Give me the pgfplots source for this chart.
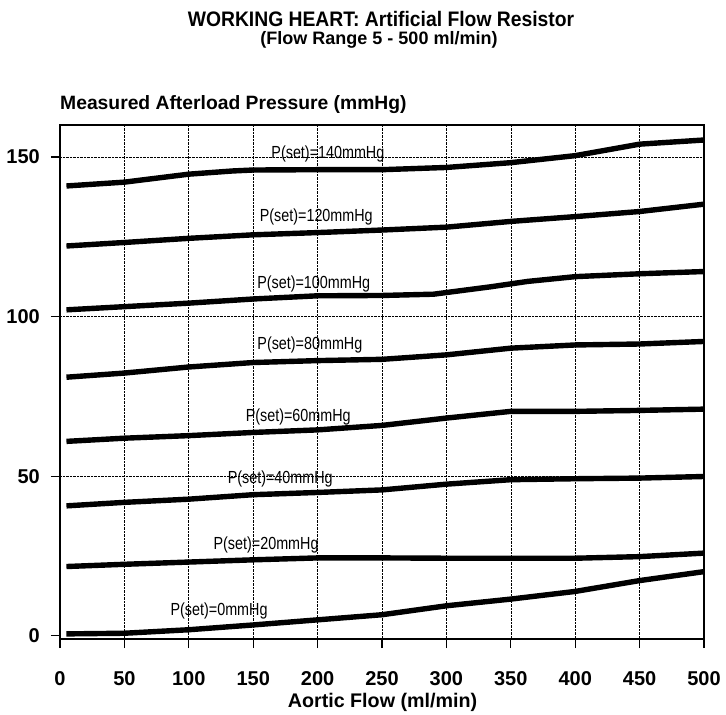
\documentclass[border=0pt]{standalone}
\usepackage{fontspec}
\setmainfont{Liberation Sans}
\newfontfamily\narrowfont[FakeStretch=0.82]{Liberation Sans}
\newfontfamily\titlefont[FakeStretch=0.92]{Liberation Sans}
\usepackage{pgfplots}
\pgfplotsset{compat=1.18}
\pgfplotsset{curve/.style={black, solid, line width=5.4pt, line cap=butt, line join=round, mark=none}}
\begin{document}
\begin{tikzpicture}
\useasboundingbox (-60pt,-76pt) rectangle (666pt,639pt);
\begin{axis}[
  name=ax, at={(0pt,0pt)}, anchor=south west,
  scale only axis, width=644pt, height=514pt,
  xmin=0, xmax=500, ymin=-1, ymax=160,
  xtick={0,50,...,500}, ytick={50,100,150},
  extra y ticks={0}, extra tick style={grid=none},
  tick pos=left,
  grid=major, major grid style={densely dotted, black, line width=0.6pt},
  axis line style={line width=1.2pt},
  tick style={black, line width=1.2pt},
  tick align=outside, major tick length=9pt,
  clip=false,
  /pgf/number format/assume math mode=true,
  ticklabel style={font=\bfseries\fontsize{20}{20}\selectfont, inner sep=0pt},
  xticklabel style={anchor=base, yshift=-37pt},
  yticklabel style={anchor=east, xshift=-11pt},
]
\addplot[curve] coordinates {(5,140.9) (50,142.1) (64,142.8) (100,144.6) (134,145.6) (150,145.9) (200,146) (250,146) (300,146.7) (350,148.2) (400,150.4) (450,154) (500,155.3)};
\addplot[curve] coordinates {(5,122.1) (50,123.2) (100,124.5) (150,125.6) (200,126.3) (250,127.1) (300,128) (350,129.8) (400,131.3) (450,132.9) (500,135.2)};
\addplot[curve] coordinates {(5,102.1) (50,103.1) (100,104.2) (150,105.5) (200,106.5) (250,106.6) (290,107) (334,109.3) (363,111) (400,112.5) (450,113.4) (500,114.1)};
\addplot[curve] coordinates {(5,81) (50,82.3) (100,84.2) (150,85.6) (200,86.2) (250,86.6) (300,88) (350,90.1) (400,91.1) (450,91.4) (500,92.2)};
\addplot[curve] coordinates {(5,60.9) (50,61.9) (100,62.7) (150,63.7) (200,64.5) (250,65.9) (300,68.2) (350,70.3) (400,70.3) (450,70.6) (500,71)};
\addplot[curve] coordinates {(5,40.7) (50,41.8) (100,42.8) (150,44.2) (200,44.9) (250,45.7) (300,47.5) (350,48.9) (400,49.2) (450,49.4) (500,49.9)};
\addplot[curve] coordinates {(5,21.7) (50,22.4) (100,23.1) (150,23.8) (200,24.4) (250,24.4) (300,24.3) (350,24.3) (400,24.3) (450,24.8) (500,25.9)};
\addplot[curve] coordinates {(5,0.6) (50,0.8) (100,1.9) (150,3.4) (200,5) (250,6.6) (300,9.4) (350,11.5) (400,13.9) (450,17.3) (500,20.1)};
\begin{scope}[every node/.style={anchor=base, inner sep=0pt, font=\narrowfont\fontsize{17.5}{18}\selectfont}]
\node at (axis cs:208,149.5) {P(set)=140mmHg};
\node at (axis cs:199,129.8) {P(set)=120mmHg};
\node at (axis cs:197,108.9) {P(set)=100mmHg};
\node at (axis cs:194,89.6) {P(set)=80mmHg};
\node at (axis cs:185,67.1) {P(set)=60mmHg};
\node at (axis cs:171,47.8) {P(set)=40mmHg};
\node at (axis cs:160,26.9) {P(set)=20mmHg};
\node at (axis cs:123.5,6.3) {P(set)=0mmHg};
\end{scope}
\end{axis}
\node[anchor=base west, inner sep=0pt, font=\bfseries\fontsize{19.3}{20}\selectfont] at (0pt,529pt) {Measured Afterload Pressure (mmHg)};
\node[anchor=base, inner sep=0pt, font=\bfseries\fontsize{19.7}{20}\selectfont] at (322.5pt,-69pt) {Aortic Flow (ml/min)};
\node[anchor=base, inner sep=0pt, font=\titlefont\bfseries\fontsize{21}{22}\selectfont] at (321pt,612pt) {WORKING HEART: Artificial Flow Resistor};
\node[anchor=base, inner sep=0pt, font=\bfseries\fontsize{18}{20}\selectfont] at (319pt,594pt) {(Flow Range 5 - 500 ml/min)};
\end{tikzpicture}
\end{document}
